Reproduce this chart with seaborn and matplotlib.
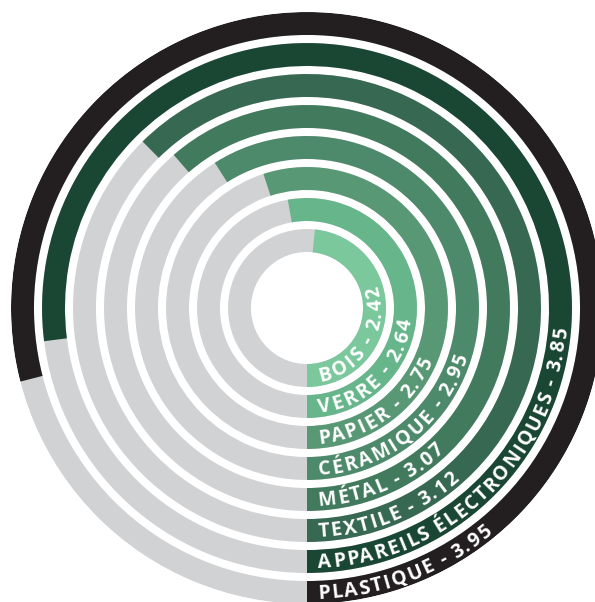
import numpy as np
import pandas as pd
import matplotlib.pyplot as plt
import seaborn as sns
from matplotlib.font_manager import FontProperties
from matplotlib.textpath import TextToPath

# data, from the inner ring to the outer ring
materials = ['BOIS', 'VERRE', 'PAPIER', 'CÉRAMIQUE', 'MÉTAL', 'TEXTILE',
             'APPAREILS ÉLECTRONIQUES', 'PLASTIQUE']
scores = [2.42, 2.64, 2.75, 2.95, 3.07, 3.12, 3.85, 3.95]
colors = ['#7ac89c', '#67b68b', '#589875', '#4d896b', '#427a5d', '#376852',
          '#1a4733', '#231f20']
track_color = '#d1d2d4'
scale_max = 5.0   # a full turn

sns.set_theme(style='white')

df = pd.DataFrame({'material': materials, 'score': scores})
df['r'] = 67.5 + 31 * np.arange(len(df))            # ring centre radius
df['theta'] = df['score'] / scale_max * 2 * np.pi
df['full'] = 2 * np.pi

fig = plt.figure(figsize=(5.95, 6.02), dpi=100)
ax = fig.add_axes([11 / 595, -2 / 602, 592 / 595, 592 / 602], projection='polar')
ax.set_theta_zero_location('S')
ax.set_theta_direction(1)

# grey tracks, then the coloured arcs
sns.barplot(data=df, x='full', y='r', orient='y', native_scale=True,
            color=track_color, saturation=1, width=0.74, linewidth=0,
            errorbar=None, ax=ax)
sns.barplot(data=df, x='theta', y='r', orient='y', native_scale=True,
            hue='material', palette=dict(zip(materials, colors)), dodge=False,
            saturation=1, width=0.74, linewidth=0, errorbar=None,
            legend=False, ax=ax)
ax.set_ylim(0, 296)
ax.set_axis_off()

# curved labels along each ring
fs = 14
track = 1.6   # extra letter spacing, px
prop = FontProperties(family='Open Sans', weight='bold', size=fs)
t2p = TextToPath()


def width_px(s):
    w, h, d = t2p.get_text_width_height_descent(s, prop, ismath=False)
    return w * 100 / 72


ref = width_px('H')
cap = 0.72 * fs * 100 / 72
for name, val, r in zip(df['material'], df['score'], df['r']):
    label = f'{name} - {val:.2f}'
    starts = [0.0] + [width_px(label[:k] + 'H') - ref for k in range(1, len(label))]
    starts.append(width_px(label))
    r_base = r + cap / 2
    for k, ch in enumerate(label):
        if ch == ' ':
            continue
        arc = 11 + (starts[k] + starts[k + 1]) / 2 + track * k
        th = arc / r
        ax.text(th, r_base, ch, rotation=np.degrees(th), rotation_mode='anchor',
                ha='center', va='baseline', color='white', fontproperties=prop)

plt.savefig('out.png', dpi=100)
